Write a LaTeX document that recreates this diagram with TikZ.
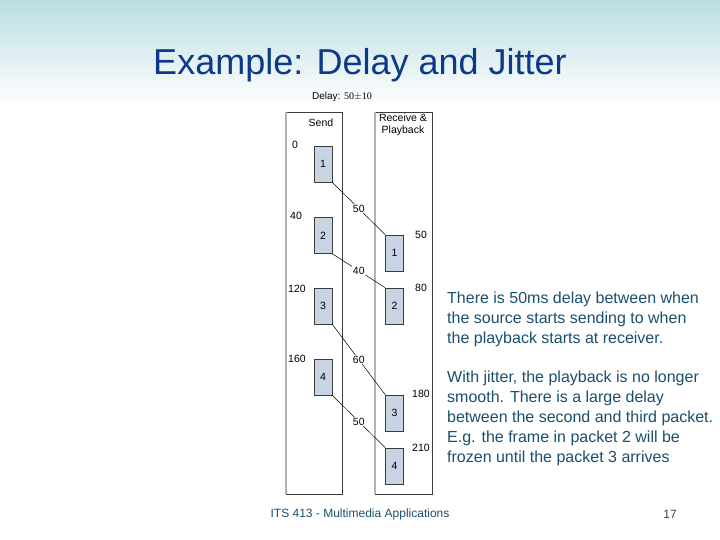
\documentclass[tikz,border=0pt]{standalone}
\usepackage{fontspec}
\setmainfont{Liberation Sans}
\newfontfamily\delayfont{Liberation Serif}
\usepackage{xcolor}
\definecolor{titleblue}{HTML}{0C3A88}
\definecolor{bodyteal}{HTML}{1B4F6E}
\definecolor{topteal}{HTML}{BBDDE2}
\definecolor{pktfill}{HTML}{C8D3E3}
\definecolor{colline}{HTML}{3C3C3C}

\begin{document}
\begin{tikzpicture}[x=1bp, y=-1bp,
                    every node/.style={inner sep=0pt},
                    pkt/.style={draw=colline, fill=pktfill, line width=0.6bp,
                                minimum width=18bp, minimum height=36bp,
                                font=\fontsize{10.5bp}{12bp}\selectfont},
                    tlab/.style={font=\fontsize{10.5bp}{12bp}\selectfont},
                    dlab/.style={tlab, fill=white, inner sep=1pt},
                    lane/.style={draw=colline, line width=0.8bp},
                    body/.style={bodyteal, anchor=north west, align=left,
                                 font=\fontsize{16bp}{20bp}\selectfont}]

  %% slide frame and header shading
  \useasboundingbox (0,0) rectangle (720,540);
  \fill[white] (0,0) rectangle (720,540);
  \shade[top color=topteal, bottom color=white] (0,0) rectangle (720,105);

  %% title
  \node[titleblue, font=\fontsize{36bp}{40bp}\selectfont] (title) at (360,65)
    {Example: Delay and Jitter};

  %% the two lanes
  \draw[lane] (286,112) rectangle (342,494);
  \draw[lane] (375,112) rectangle (432,494);
  \draw[gray!60, line width=1.4bp] (286,112) -- (286,494);
  \draw[gray!60, line width=1.4bp] (375,112) -- (375,494);

  \node[font=\fontsize{10bp}{12bp}\selectfont] (delay) at (342,97)
    {Delay: {\delayfont 50$\pm$10}};
  \node[tlab] (sendlab) at (321,123) {Send};
  \node[tlab, align=center, font=\fontsize{10.5bp}{11.5bp}\selectfont] (recvlab) at (403,125)
    {Receive \&\\Playback};

  %% packets leaving the sender
  \node[pkt] (s1) at (323,164)   {1};
  \node[pkt] (s2) at (323,235.5) {2};
  \node[pkt] (s3) at (323,306)   {3};
  \node[pkt] (s4) at (323,377)   {4};

  %% packets at the receiver
  \node[pkt] (r1) at (394.5,253) {1};
  \node[pkt] (r2) at (394.5,306) {2};
  \node[pkt] (r3) at (394.5,413) {3};
  \node[pkt] (r4) at (394.5,466) {4};

  %% send and playback times
  \node[tlab] (ts1) at (295,145) {0};
  \node[tlab] (ts2) at (296,216) {40};
  \node[tlab] (ts3) at (297,289) {120};
  \node[tlab] (ts4) at (297,359) {160};
  \node[tlab] (tr1) at (421,235) {50};
  \node[tlab] (tr2) at (421,288) {80};
  \node[tlab] (tr3) at (421,394) {180};
  \node[tlab] (tr4) at (421,448) {210};

  %% transit of each packet
  \draw[black, line width=0.5bp] (s1.south east) -- node[dlab] {50} (r1.north west);
  \draw[black, line width=0.5bp] (s2.south east) -- node[dlab] {40} (r2.north west);
  \draw[black, line width=0.5bp] (s3.south east) -- node[dlab] {60} (r3.north west);
  \draw[black, line width=0.5bp] (s4.south east) -- node[dlab] {50} (r4.north west);

  %% notes
  \node[body] (note1) at (447,292)
    {There is 50ms delay between when\\
     the source starts sending to when\\
     the playback starts at receiver.};
  \node[body] (note2) at (447,371)
    {With jitter, the playback is no longer\\
     smooth. There is a large delay\\
     between the second and third packet.\\
     E.g. the frame in packet 2 will be\\
     frozen until the packet 3 arrives};

  %% footer
  \node[bodyteal, font=\fontsize{12bp}{14bp}\selectfont] (foot) at (360,514)
    {ITS 413 - Multimedia Applications};
  \node[bodyteal, font=\fontsize{12bp}{14bp}\selectfont] (page) at (670,514) {17};

\end{tikzpicture}
\end{document}
